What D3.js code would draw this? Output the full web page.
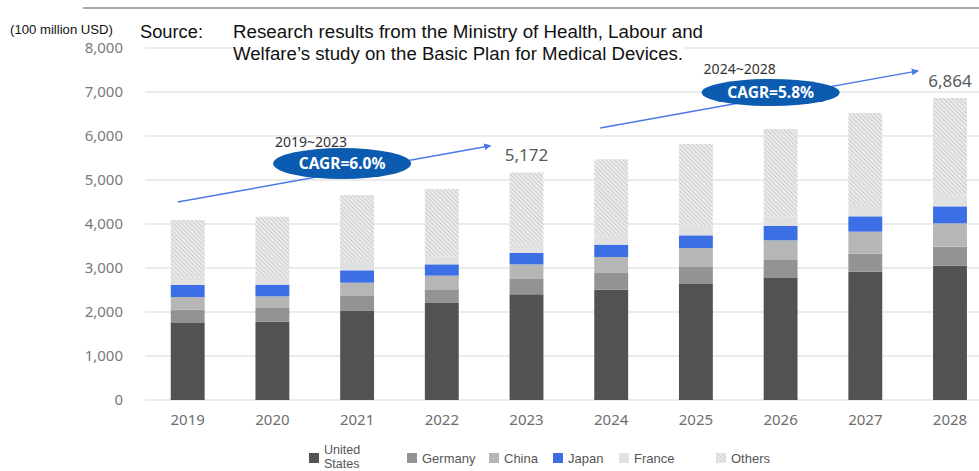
<!DOCTYPE html>
<html>
<head>
<meta charset="utf-8">
<script src="https://cdn.jsdelivr.net/npm/d3@7"></script>
<style>
  body { margin: 0; background: #fff; }
  svg { display: block; }
</style>
</head>
<body>
<div id="chart-area"></div>
<script>
// data (100 million USD)
var years = ["2019", "2020", "2021", "2022", "2023", "2024", "2025", "2026", "2027", "2028"];
var unitedStates = [1765, 1780, 2023, 2205, 2402, 2508, 2636, 2773, 2917, 3053];
var germany = [288, 311, 356, 310, 348, 378, 402, 409, 409, 432];
var china = [288, 265, 288, 311, 333, 364, 417, 447, 500, 530];
var japan = [273, 265, 280, 257, 258, 280, 287, 326, 348, 386];
var france = [166, 174, 189, 175, 189, 205, 220, 219, 235, 251];
var others = [1311, 1372, 1523, 1537, 1642, 1735, 1856, 1985, 2114, 2212];
var totalLabels = { "2023": "5,172", "2028": "6,864" };
var yTicks = [0, 1000, 2000, 3000, 4000, 5000, 6000, 7000, 8000];
var seriesNames = ["United States", "Germany", "China", "Japan", "France", "Others"];

var width = 979, height = 471;

var svg = d3.select("#chart-area")
    .append("svg")
        .attr("width", width)
        .attr("height", height);

// hatch pattern for "Others"
var defs = svg.append("defs");
var pat = defs.append("pattern")
    .attr("id", "hatch")
    .attr("patternUnits", "userSpaceOnUse")
    .attr("width", 3)
    .attr("height", 3)
    .attr("patternTransform", "rotate(-45)");
pat.append("rect").attr("width", 3).attr("height", 3).attr("fill", "#ebebeb");
pat.append("line")
    .attr("x1", 0).attr("y1", 0).attr("x2", 0).attr("y2", 3)
    .attr("stroke", "#bfbfbf").attr("stroke-width", 1.4);

var colors = ["#525252", "#939393", "#b6b6b6", "#3c6ee6", "#e1e1e1", "url(#hatch)"];

// Scales
var x = d3.scaleBand()
    .domain(years)
    .range([145.35, 992.35])
    .paddingInner(0.6)
    .paddingOuter(0.3);
var y = d3.scaleLinear()
    .domain([0, 8000])
    .range([400, 48]);

// gridlines
svg.append("g").selectAll("line")
    .data(yTicks)
    .enter().append("line")
        .attr("x1", 145).attr("x2", width)
        .attr("y1", function(d){ return y(d); })
        .attr("y2", function(d){ return y(d); })
        .attr("stroke", "#e4e4e4")
        .attr("stroke-width", 1.5);

// Y Axis
var yAxisCall = d3.axisLeft(y)
    .tickValues(yTicks)
    .tickSize(0)
    .tickPadding(0)
    .tickFormat(d3.format(","));
var yAxis = svg.append("g")
    .attr("transform", "translate(123,0)")
    .call(yAxisCall);
yAxis.select(".domain").remove();
yAxis.selectAll("text")
    .attr("font-family", "'Noto Sans', sans-serif")
    .attr("font-size", "15px")
    .attr("fill", "#7a7a7a");

// X Axis
var xAxisCall = d3.axisBottom(x).tickSize(0).tickPadding(0);
var xAxis = svg.append("g")
    .attr("transform", "translate(0,414)")
    .call(xAxisCall);
xAxis.select(".domain").remove();
xAxis.selectAll("text")
    .attr("font-family", "'Noto Sans', sans-serif")
    .attr("font-size", "15px")
    .attr("fill", "#6e6e6e");

// stack
var table = years.map(function(yr, i){
    return { year: yr, s0: unitedStates[i], s1: germany[i], s2: china[i],
             s3: japan[i], s4: france[i], s5: others[i] };
});
var stack = d3.stack().keys(["s0", "s1", "s2", "s3", "s4", "s5"]);
var layers = stack(table);

svg.append("g").selectAll("g")
    .data(layers)
    .enter().append("g")
        .attr("fill", function(d, i){ return colors[i]; })
    .selectAll("rect")
    .data(function(d){ return d; })
    .enter().append("rect")
        .attr("x", function(d){ return x(d.data.year); })
        .attr("width", x.bandwidth())
        .attr("y", function(d){ return y(d[1]); })
        .attr("height", function(d){ return y(d[0]) - y(d[1]); });

// total labels
var last = layers[layers.length - 1];
svg.append("g").selectAll("text")
    .data(last.filter(function(d){ return totalLabels[d.data.year]; }))
    .enter().append("text")
        .attr("x", function(d){ return x(d.data.year) + x.bandwidth() / 2; })
        .attr("y", function(d){ return y(d[1]) - 11; })
        .attr("text-anchor", "middle")
        .attr("font-family", "'Noto Sans', sans-serif")
        .attr("font-size", "17px")
        .attr("fill", "#5a5a5a")
        .text(function(d){ return totalLabels[d.data.year]; });

// CAGR annotations
defs.append("marker")
    .attr("id", "arrow")
    .attr("viewBox", "0 0 10 10")
    .attr("refX", 9).attr("refY", 5)
    .attr("markerWidth", 7).attr("markerHeight", 7)
    .attr("markerUnits", "userSpaceOnUse")
    .attr("orient", "auto")
    .append("path")
        .attr("d", "M0,0 L10,5 L0,10 z")
        .attr("fill", "#4a78e8");

var cagr = [
    { period: "2019~2023", text: "CAGR=6.0%",
      x1: x("2019") + 7, y1: y(4500), x2: x("2023") - 19, y2: y(5780),
      ex: x("2021") + x.bandwidth() / 2 - 15, ey: 163.5, rx: 69, ry: 15.5, ly: 147 },
    { period: "2024~2028", text: "CAGR=5.8%",
      x1: x("2024") + 6, y1: y(6180), x2: x("2028") - 15, y2: y(7480),
      ex: x("2026") + 7, ey: 92.5, rx: 69, ry: 13.5, ly: 74 }
];
var ann = svg.append("g");
cagr.forEach(function(c){
    ann.append("line")
        .attr("x1", c.x1).attr("y1", c.y1)
        .attr("x2", c.x2).attr("y2", c.y2)
        .attr("stroke", "#4a78e8")
        .attr("stroke-width", 1.5)
        .attr("marker-end", "url(#arrow)");
    ann.append("ellipse")
        .attr("cx", c.ex).attr("cy", c.ey)
        .attr("rx", c.rx).attr("ry", c.ry)
        .attr("fill", "#0b5bb0");
    ann.append("text")
        .attr("x", c.ex).attr("y", c.ey + 5.5)
        .attr("text-anchor", "middle")
        .attr("font-family", "'Noto Sans', sans-serif")
        .attr("font-weight", "bold")
        .attr("font-size", "15.5px")
        .attr("fill", "#fff")
        .text(c.text);
    ann.append("text")
        .attr("x", c.ex - 31).attr("y", c.ly)
        .attr("text-anchor", "middle")
        .attr("font-family", "'Noto Sans', sans-serif")
        .attr("font-size", "14px")
        .attr("fill", "#333")
        .text(c.period);
});

// top rule
svg.append("line")
    .attr("x1", 83).attr("x2", width)
    .attr("y1", 8).attr("y2", 8)
    .attr("stroke", "#555").attr("stroke-width", 1.2);

// unit + source
svg.append("text")
    .attr("x", 10).attr("y", 34)
    .attr("font-family", "'Liberation Sans', Arial, sans-serif")
    .attr("font-size", "12.5px")
    .attr("fill", "#111")
    .attr("textLength", 103)
    .attr("lengthAdjust", "spacingAndGlyphs")
    .text("(100 million USD)");
svg.append("rect")
    .attr("x", 232).attr("y", 20).attr("width", 453).attr("height", 45)
    .attr("fill", "#fff");
var src = svg.append("g")
    .attr("font-family", "'Liberation Sans', Arial, sans-serif")
    .attr("font-size", "17.5px")
    .attr("fill", "#111");
src.append("text").attr("x", 140).attr("y", 38)
    .attr("textLength", 63).attr("lengthAdjust", "spacingAndGlyphs")
    .text("Source:");
src.append("text").attr("x", 233).attr("y", 38)
    .attr("textLength", 470).attr("lengthAdjust", "spacingAndGlyphs")
    .text("Research results from the Ministry of Health, Labour and");
src.append("text").attr("x", 233).attr("y", 60)
    .attr("textLength", 450).attr("lengthAdjust", "spacingAndGlyphs")
    .text("Welfare\u2019s study on the Basic Plan for Medical Devices.");

// Legend
var legendX = [309, 407, 489, 553, 619, 716];
var legend = svg.append("g")
    .attr("font-family", "'Liberation Sans', Arial, sans-serif")
    .attr("font-size", "13px")
    .attr("fill", "#555");
seriesNames.forEach(function(name, i){
    legend.append("rect")
        .attr("x", legendX[i]).attr("y", 453)
        .attr("width", 10).attr("height", 10)
        .attr("fill", colors[i]);
    if (i === 0) {
        legend.append("text").attr("x", legendX[i] + 15).attr("y", 454)
            .attr("font-size", "12.5px").text("United");
        legend.append("text").attr("x", legendX[i] + 15).attr("y", 468)
            .attr("font-size", "12.5px").text("States");
    } else {
        legend.append("text").attr("x", legendX[i] + 15).attr("y", 463).text(name);
    }
});
</script>
</body>
</html>
